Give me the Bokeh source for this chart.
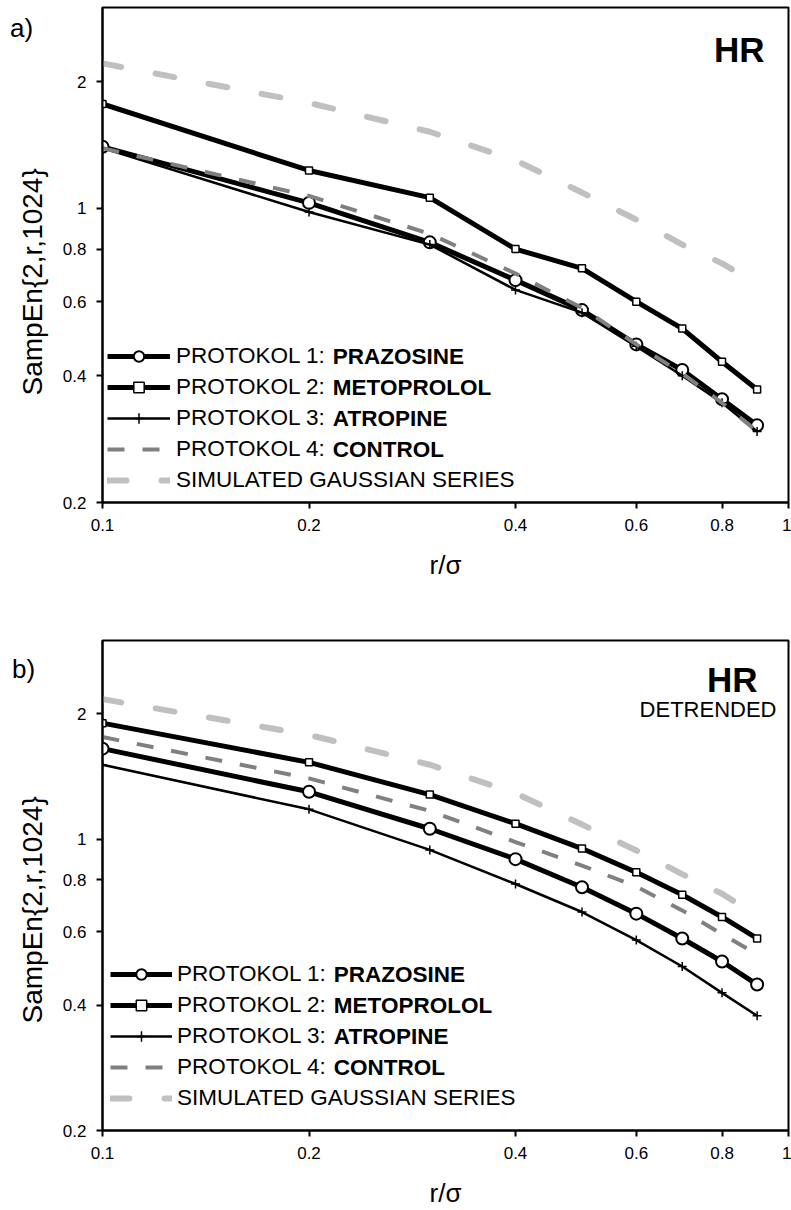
import math
from bokeh.plotting import figure
from bokeh.models import (Range1d, FixedTicker, CustomJSTickFormatter, Legend,
                          LegendItem, Label, Title, Div)
from bokeh.layouts import column
from bokeh.embed import file_html
from bokeh.resources import INLINE

# ---------------- data ----------------
r_sigma = [0.1, 0.2, 0.3, 0.4, 0.5, 0.6, 0.7, 0.8, 0.9]

a_prazosine = [1.40, 1.03, 0.83, 0.675, 0.573, 0.475, 0.413, 0.352, 0.305]
a_metoprolol = [1.77, 1.23, 1.06, 0.80, 0.72, 0.60, 0.518, 0.432, 0.371]
a_atropine = [1.39, 0.98, 0.82, 0.64, 0.565, 0.47, 0.40, 0.345, 0.295]
a_control = [1.39, 1.07, 0.87, 0.70, 0.58, 0.475, 0.405, 0.345, 0.295]
a_gauss = [2.21, 1.78, 1.52, 1.30, 1.09, 0.94, 0.82, 0.74, 0.66]

b_prazosine = [1.65, 1.30, 1.06, 0.896, 0.767, 0.663, 0.578, 0.509, 0.448]
b_metoprolol = [1.90, 1.53, 1.28, 1.09, 0.95, 0.833, 0.736, 0.651, 0.578]
b_atropine = [1.51, 1.18, 0.943, 0.781, 0.669, 0.573, 0.495, 0.428, 0.377]
b_control = [1.76, 1.40, 1.17, 0.985, 0.865, 0.77, 0.675, 0.592, 0.53]
b_gauss = [2.17, 1.78, 1.51, 1.29, 1.085, 0.94, 0.825, 0.74, 0.656]

x_ticks = [0.1, 0.2, 0.4, 0.6, 0.8, 1.0]
y_ticks = [0.2, 0.4, 0.6, 0.8, 1.0, 2.0]

legend_prefix = ["PROTOKOL 1: ", "PROTOKOL 2: ", "PROTOKOL 3: ", "PROTOKOL 4: ",
                 "SIMULATED GAUSSIAN SERIES"]
legend_bold = ["PRAZOSINE", "METOPROLOL", "ATROPINE", "CONTROL", ""]
y_label = "SampEn{2,r,1024}"
x_label = "r/\u03c3"

FONT = "Liberation Sans"
LEG_FS = 22.5
PREFIX_W = 6.947 * LEG_FS  # width of "PROTOKOL n: " in Arial metrics


def make_panel(pr, me, at, co, ga, height, borders, hr_pos, detrended_pos,
               leg_loc, glyph_w, standoff):
    bl, br, bt, bb = borders
    p = figure(width=791, height=height, x_axis_type="log", y_axis_type="log",
               x_range=Range1d(0.1, 1.0), y_range=Range1d(0.2, 3.0),
               output_backend="svg", toolbar_location=None,
               min_border_left=bl, min_border_right=br,
               min_border_top=bt, min_border_bottom=bb)
    p.background_fill_color = "white"
    p.border_fill_color = "white"
    p.xgrid.visible = False
    p.ygrid.visible = False
    p.outline_line_color = "black"
    p.outline_line_width = 2

    fmt = CustomJSTickFormatter(code="return String(tick)")
    p.xaxis.ticker = FixedTicker(ticks=x_ticks, minor_ticks=[])
    p.yaxis.ticker = FixedTicker(ticks=y_ticks, minor_ticks=[])
    for ax in (p.xaxis, p.yaxis):
        ax.formatter = fmt
        ax.axis_line_width = 2
        ax.axis_line_color = "black"
        ax.major_tick_line_width = 2
        ax.major_tick_line_color = "black"
        ax.major_tick_out = 6
        ax.major_tick_in = 0
        ax.minor_tick_out = 0
        ax.minor_tick_in = 0
        ax.major_label_text_font = FONT
        ax.major_label_text_font_size = "17px"
        ax.major_label_text_color = "black"
        ax.major_label_standoff = 10
    p.xaxis.axis_label = x_label
    p.xaxis.axis_label_text_font = FONT
    p.xaxis.axis_label_text_font_size = "26px"
    p.xaxis.axis_label_text_font_style = "normal"
    p.xaxis.axis_label_text_color = "black"
    p.xaxis.axis_label_standoff = 16

    # y label as a side title (not clipped), shifted along the axis
    p.add_layout(Title(text=y_label, align="left", offset=107,
                       vertical_align="bottom", standoff=24,
                       text_font=FONT, text_font_size="28px",
                       text_font_style="normal", text_color="black"), "left")

    # series (drawn in legend order, later on top)
    l1 = p.line(r_sigma, pr, line_color="black", line_width=5, line_join="round")
    s1 = p.scatter(r_sigma, pr, marker="circle", size=12, fill_color="white",
                   line_color="black", line_width=2)
    l2 = p.line(r_sigma, me, line_color="black", line_width=5, line_join="round")
    s2 = p.scatter(r_sigma, me, marker="square", size=7, fill_color="white",
                   line_color="black", line_width=1.5)
    l3 = p.line(r_sigma, at, line_color="black", line_width=2.5, line_join="round")
    s3 = p.scatter(r_sigma, at, marker="cross", size=9, line_color="black",
                   line_width=1.5)
    l4 = p.line(r_sigma, co, line_color="#808080", line_width=4, line_dash="17 18")
    l5 = p.line(r_sigma, ga, line_color="#c0c0c0", line_width=6,
                line_dash="19 35", line_cap="round")

    items = [
        LegendItem(label=legend_prefix[0], renderers=[l1, s1]),
        LegendItem(label=legend_prefix[1], renderers=[l2, s2]),
        LegendItem(label=legend_prefix[2], renderers=[l3, s3]),
        LegendItem(label=legend_prefix[3], renderers=[l4]),
        LegendItem(label=legend_prefix[4], renderers=[l5]),
    ]
    row_h, spacing = 26, 5
    leg = Legend(items=items, location=leg_loc, glyph_width=glyph_w,
                 glyph_height=row_h, label_height=row_h, spacing=spacing,
                 padding=0, margin=0, label_standoff=standoff,
                 border_line_color=None, background_fill_alpha=0,
                 label_text_font=FONT, label_text_font_size=f"{LEG_FS}px",
                 label_text_color="black")
    p.add_layout(leg, "center")

    n = len(items)
    text_x = leg_loc[0] + glyph_w + standoff + PREFIX_W
    for k, name in enumerate(legend_bold):
        if not name:
            continue
        yk = leg_loc[1] + (n - 1 - k) * (row_h + spacing) + row_h / 2
        p.add_layout(Label(x=text_x, y=yk, x_units="screen", y_units="screen",
                           text=name, text_font=FONT,
                           text_font_size=f"{LEG_FS}px", text_font_style="bold",
                           text_align="left", text_baseline="middle",
                           text_color="black"))

    p.add_layout(Label(x=hr_pos[0], y=hr_pos[1], x_units="screen",
                       y_units="screen", text="HR", text_font=FONT,
                       text_font_size="35px", text_font_style="bold",
                       text_align="right", text_baseline="alphabetic",
                       text_color="black"))
    if detrended_pos is not None:
        p.add_layout(Label(x=detrended_pos[0], y=detrended_pos[1], x_units="screen",
                           y_units="screen", text="DETRENDED", text_font=FONT,
                           text_font_size="22px", text_align="right",
                           text_baseline="alphabetic", text_color="black"))
    return p


def panel_letter(text, left, top):
    return Div(text=text, width=40, height=30, margin=0,
               styles={"position": "absolute", "left": f"{left}px",
                       "top": f"{top}px", "font-family": FONT,
                       "font-size": "26px", "line-height": "26px",
                       "color": "black", "margin": "0", "padding": "0"})


pa = make_panel(a_prazosine, a_metoprolol, a_atropine, a_control, a_gauss,
                height=605, borders=(98, 3, 7, 103), hr_pos=(662, 453),
                detrended_pos=None, leg_loc=(5, 9), glyph_w=63, standoff=6)
pb = make_panel(b_prazosine, b_metoprolol, b_atropine, b_control, b_gauss,
                height=605, borders=(102, 1, 35, 76), hr_pos=(655, 451),
                detrended_pos=(674, 421), leg_loc=(8, 19), glyph_w=62, standoff=5)

layout = column(pa, pb, panel_letter("a)", 10, 15), panel_letter("b)", 12, 656),
                spacing=0)
open("out.html", "w").write(file_html(layout, INLINE))
